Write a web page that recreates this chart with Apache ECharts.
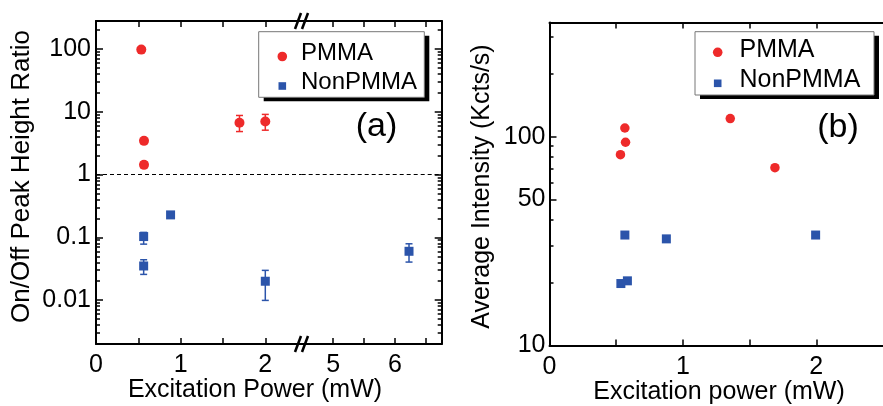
<!DOCTYPE html>
<html><head><meta charset="utf-8">
<script src="https://cdn.jsdelivr.net/npm/echarts@6/dist/echarts.min.js"></script>
<style>html,body{margin:0;padding:0;background:#fff}#c{width:883px;height:406px}</style>
</head><body><div id="c"></div>
<script>
// ---------- data ----------
const seriesNames = ['PMMA', 'NonPMMA'];
// Panel (a): On/Off peak height ratio vs excitation power
const aPmmaX  = [0.535, 0.567, 0.567, 1.695, 2.0];
const aPmmaY  = [98, 3.45, 1.43, 6.7, 7.0];
const aPmmaLo = [98, 3.3, 1.3, 4.85, 5.1];
const aPmmaHi = [98, 3.6, 1.6, 8.75, 9.1];
const aNonX   = [0.563, 0.563, 0.881, 2.0, 6.23];
const aNonY   = [0.103, 0.035, 0.228, 0.020, 0.060];
const aNonLo  = [0.078, 0.0257, 0.21, 0.0099, 0.0404];
const aNonHi  = [0.12, 0.044, 0.25, 0.0298, 0.079];
const aRefLine = 1;
// Panel (a) ticks
const aYTicks = [0.01, 0.1, 1, 10, 100];
const aYTickLabels = ['0.01', '0.1', '1', '10', '100'];
const aYMinor = [0.002,0.003,0.004,0.005,0.006,0.007,0.008,0.009,
                 0.02,0.03,0.04,0.05,0.06,0.07,0.08,0.09,
                 0.2,0.3,0.4,0.5,0.6,0.7,0.8,0.9,
                 2,3,4,5,6,7,8,9,
                 20,30,40,50,60,70,80,90,200];
const aXLowLabels = [0, 1, 2];
const aXLowTicks = [0, 0.5, 1, 1.5, 2];
const aXHighLabels = [5, 6];
const aXHighTicks = [5, 5.5, 6, 6.5];
// Panel (b): average intensity vs excitation power
const bPmmaX = [0.565, 0.57, 0.532, 1.355, 1.69];
const bPmmaY = [110, 94, 82, 122, 71];
const bNonX  = [0.565, 0.876, 1.995, 0.535, 0.584];
const bNonY  = [33.8, 32.4, 33.8, 19.8, 20.4];
const bYLabels = [10, 50, 100];
const bYMajor = [10, 50, 100];
const bYMinor = [20, 30, 40, 60, 70, 80, 90, 200, 300];
const bXLabels = [0, 1, 2];
const bXTicks = [0, 0.5, 1, 1.5, 2];

// ---------- layout ----------
const FONT = '"Liberation Sans", Arial, Helvetica, sans-serif';
const RED = '#ee2a2a', BLUE = '#2b54aa';
const A_LOW_MAX = 2.43, A_HIGH_MIN = 4.49, A_HIGH_MAX = 6.76;

const gA = {left: 96, top: 21, width: 205.7, height: 323};
const gB = {left: 301.7, top: 21, width: 140, height: 323};
const gC = {left: 549.5, top: 22.5, width: 340, height: 323};

function lbl(v, ticks, labels) {
  for (let i = 0; i < ticks.length; i++) {
    if (Math.abs(Math.log10(v) - Math.log10(ticks[i])) < 1e-6) return labels[i];
  }
  return '';
}

const axisLineStyle = {show: true, lineStyle: {color: '#000', width: 2}};
function xAx(grid, min, max, pos, labels, ticks, showLabel) {
  return {type: 'value', gridIndex: grid, min: min, max: max, position: pos,
    axisLine: axisLineStyle, splitLine: {show: false},
    axisTick: {show: true, inside: true, length: 6, lineStyle: {color: '#000', width: 1.5}, customValues: ticks},
    axisLabel: {show: showLabel, customValues: labels, margin: 9, fontSize: 25, color: '#000', fontFamily: FONT,
      formatter: v => String(Math.round(v))}};
}
function hidX(grid, min, max) {
  return {type: 'value', gridIndex: grid, min: min, max: max, show: false};
}
function yAx(grid, min, max, pos, opts) {
  return Object.assign({type: 'log', logBase: 10, gridIndex: grid, min: min, max: max, position: pos,
    splitLine: {show: false}}, opts);
}

const xAxes = [
  xAx(0, 0, A_LOW_MAX, 'bottom', aXLowLabels, aXLowTicks, true),     //0
  xAx(0, 0, A_LOW_MAX, 'top', aXLowLabels, aXLowTicks, false),       //1
  hidX(1, 0, A_LOW_MAX),                                             //2
  xAx(2, A_HIGH_MIN, A_HIGH_MAX, 'bottom', aXHighLabels, aXHighTicks, true), //3
  xAx(2, A_HIGH_MIN, A_HIGH_MAX, 'top', aXHighLabels, aXHighTicks, false),   //4
  hidX(3, A_HIGH_MIN, A_HIGH_MAX),                                   //5
  xAx(4, 0, 2.5, 'bottom', bXLabels, bXTicks, true),                 //6
  xAx(4, 0, 2.5, 'top', bXLabels, bXTicks, false),                   //7
  hidX(5, 0, 2.5)                                                    //8
];

const majTick = (vals, len) => ({show: true, inside: true, length: len, lineStyle: {color: '#000', width: 1.5}, customValues: vals});
const yAxes = [
  yAx(0, 0.002, 280, 'left', {axisLine: axisLineStyle, axisTick: majTick(aYTicks, 7),
    axisLabel: {show: true, customValues: aYTicks, margin: 5, fontSize: 25, color: '#000', fontFamily: FONT,
      formatter: v => lbl(v, aYTicks, aYTickLabels)}}),                      //0
  yAx(1, 0.002, 280, 'left', {axisLine: {show: false}, axisTick: majTick(aYMinor, 4), axisLabel: {show: false}}), //1
  yAx(2, 0.002, 280, 'right', {axisLine: axisLineStyle, axisTick: majTick(aYTicks, 7), axisLabel: {show: false}}), //2
  yAx(3, 0.002, 280, 'right', {axisLine: {show: false}, axisTick: majTick(aYMinor, 4), axisLabel: {show: false}}), //3
  yAx(4, 10, 352, 'left', {axisLine: axisLineStyle, axisTick: majTick(bYMajor, 7),
    axisLabel: {show: true, customValues: bYLabels, margin: 4, fontSize: 25, color: '#000', fontFamily: FONT,
      formatter: v => lbl(v, bYLabels, bYLabels.map(String))}}),               //4
  yAx(5, 10, 352, 'left', {axisLine: {show: false}, axisTick: majTick(bYMinor, 4), axisLabel: {show: false}}) //5
];

// split panel (a) points between the two x segments
function split(xs, ys, los, his, low) {
  const pts = [], errs = [];
  xs.forEach((x, i) => {
    const inLow = x <= A_LOW_MAX;
    if (inLow === low) {
      pts.push([x, ys[i]]);
      if (los[i] !== his[i]) errs.push([x, ys[i], los[i], his[i]]);
    }
  });
  return {pts, errs};
}
const aPL = split(aPmmaX, aPmmaY, aPmmaLo, aPmmaHi, true);
const aNL = split(aNonX, aNonY, aNonLo, aNonHi, true);
const aNH = split(aNonX, aNonY, aNonLo, aNonHi, false);

function errRender(params, api) {
  const x = api.value(0), lo = api.value(2), hi = api.value(3);
  const p0 = api.coord([x, hi]), p1 = api.coord([x, lo]);
  const cw = 3.5, col = api.visual('color');
  const st = {stroke: col, lineWidth: 1.5};
  return {type: 'group', children: [
    {type: 'line', shape: {x1: p0[0], y1: p0[1], x2: p1[0], y2: p1[1]}, style: st},
    {type: 'line', shape: {x1: p0[0] - cw, y1: p0[1], x2: p0[0] + cw, y2: p0[1]}, style: st},
    {type: 'line', shape: {x1: p1[0] - cw, y1: p1[1], x2: p1[0] + cw, y2: p1[1]}, style: st}
  ]};
}
function errSeries(data, xi, yi, color) {
  return {type: 'custom', xAxisIndex: xi, yAxisIndex: yi, renderItem: errRender,
    itemStyle: {color: color, opacity: 1}, encode: {x: 0, y: 1}, data: data, z: 3, silent: true};
}
const dash = {silent: true, symbol: 'none', label: {show: false},
  lineStyle: {color: '#000', type: [4, 3], width: 1}, data: [{yAxis: aRefLine}]};

const series = [
  errSeries(aPL.errs, 0, 0, RED),
  errSeries(aNL.errs, 0, 0, BLUE),
  errSeries(aNH.errs, 3, 2, BLUE),
  {name: seriesNames[0], type: 'scatter', xAxisIndex: 0, yAxisIndex: 0, data: aPL.pts,
    symbol: 'circle', symbolSize: 10, itemStyle: {color: RED, opacity: 1}, z: 4, markLine: dash},
  {name: seriesNames[1], type: 'scatter', xAxisIndex: 0, yAxisIndex: 0, data: aNL.pts,
    symbol: 'rect', symbolSize: 9, itemStyle: {color: BLUE, opacity: 1}, z: 4},
  {name: seriesNames[1], type: 'scatter', xAxisIndex: 3, yAxisIndex: 2, data: aNH.pts,
    symbol: 'rect', symbolSize: 9, itemStyle: {color: BLUE, opacity: 1}, z: 4, markLine: dash},
  {name: seriesNames[0], type: 'scatter', xAxisIndex: 6, yAxisIndex: 4,
    data: bPmmaX.map((x, i) => [x, bPmmaY[i]]), symbol: 'circle', symbolSize: 9.5, itemStyle: {color: RED, opacity: 1}, z: 4},
  {name: seriesNames[1], type: 'scatter', xAxisIndex: 6, yAxisIndex: 4,
    data: bNonX.map((x, i) => [x, bNonY[i]]), symbol: 'rect', symbolSize: 9, itemStyle: {color: BLUE, opacity: 1}, z: 4}
];

// legend boxes drawn with graphic elements (frame with drop shadow, symbols and labels)
function legendBox(x, y, w, h, symX, textX, rows, fs) {
  const els = [
    {type: 'rect', z: 1, shape: {x: x + 5, y: y + 4, width: w, height: h}, style: {fill: '#000'}},
    {type: 'rect', z: 2, shape: {x: x, y: y, width: w, height: h}, style: {fill: '#fff', stroke: '#777', lineWidth: 1}}
  ];
  rows.forEach(r => {
    if (r.shape === 'circle') {
      els.push({type: 'circle', z: 3, shape: {cx: symX, cy: r.sy, r: 4.8}, style: {fill: r.color}});
    } else {
      els.push({type: 'rect', z: 3, shape: {x: symX - 3.8, y: r.sy - 3.8, width: 7.6, height: 7.6}, style: {fill: r.color}});
    }
    els.push({type: 'text', z: 3, x: textX, y: r.ty,
      style: {text: r.name, fontSize: fs, fontFamily: FONT, fill: '#000', textAlign: 'left', textVerticalAlign: 'middle'}});
  });
  return els;
}

function txt(text, x, y, fs, rot) {
  return {type: 'text', x: x, y: y, rotation: rot || 0, z: 10,
    style: {text: text, fontSize: fs, fontFamily: FONT, fill: '#000', textAlign: 'center', textVerticalAlign: 'middle'}};
}
function brk(cx, cy) {
  const s = {stroke: '#000', lineWidth: 2.5};
  return [
    {type: 'line', z: 10, shape: {x1: cx - 6.5, y1: cy + 8, x2: cx - 0.5, y2: cy - 8}, style: s},
    {type: 'line', z: 10, shape: {x1: cx + 0.5, y1: cy + 8, x2: cx + 6.5, y2: cy - 8}, style: s}
  ];
}

const option = {
  animation: false,
  backgroundColor: '#fff',
  textStyle: {fontFamily: FONT},
  grid: [
    Object.assign({}, gA), Object.assign({}, gA),
    Object.assign({}, gB), Object.assign({}, gB),
    Object.assign({}, gC), Object.assign({}, gC)
  ],
  xAxis: xAxes,
  yAxis: yAxes,
  graphic: [
    txt('Excitation Power (mW)', 255, 390, 25),
    txt('On/Off Peak Height Ratio', 22, 176.5, 26, Math.PI / 2),
    txt('Excitation power (mW)', 719, 392.5, 25),
    txt('Average Intensity (Kcts/s)', 482.5, 186.5, 25, Math.PI / 2),
    txt('(a)', 376.5, 127, 34),
    txt('(b)', 838, 127.5, 34)
  ].concat(brk(301.5, 21), brk(301.5, 344),
    legendBox(258.7, 31.7, 165.6, 65.6, 282.3, 301, [
      {name: seriesNames[0], shape: 'circle', color: RED, sy: 56.5, ty: 53.5},
      {name: seriesNames[1], shape: 'rect', color: BLUE, sy: 86, ty: 82}], 24),
    legendBox(695, 31.7, 179, 63.3, 717.7, 739.5, [
      {name: seriesNames[0], shape: 'circle', color: RED, sy: 52.3, ty: 50.5},
      {name: seriesNames[1], shape: 'rect', color: BLUE, sy: 83.3, ty: 80.5}], 25)),
  series: series
};

const chart = echarts.init(document.getElementById('c'), null, {renderer: 'canvas'});
chart.setOption(option);
</script>
</body></html>
